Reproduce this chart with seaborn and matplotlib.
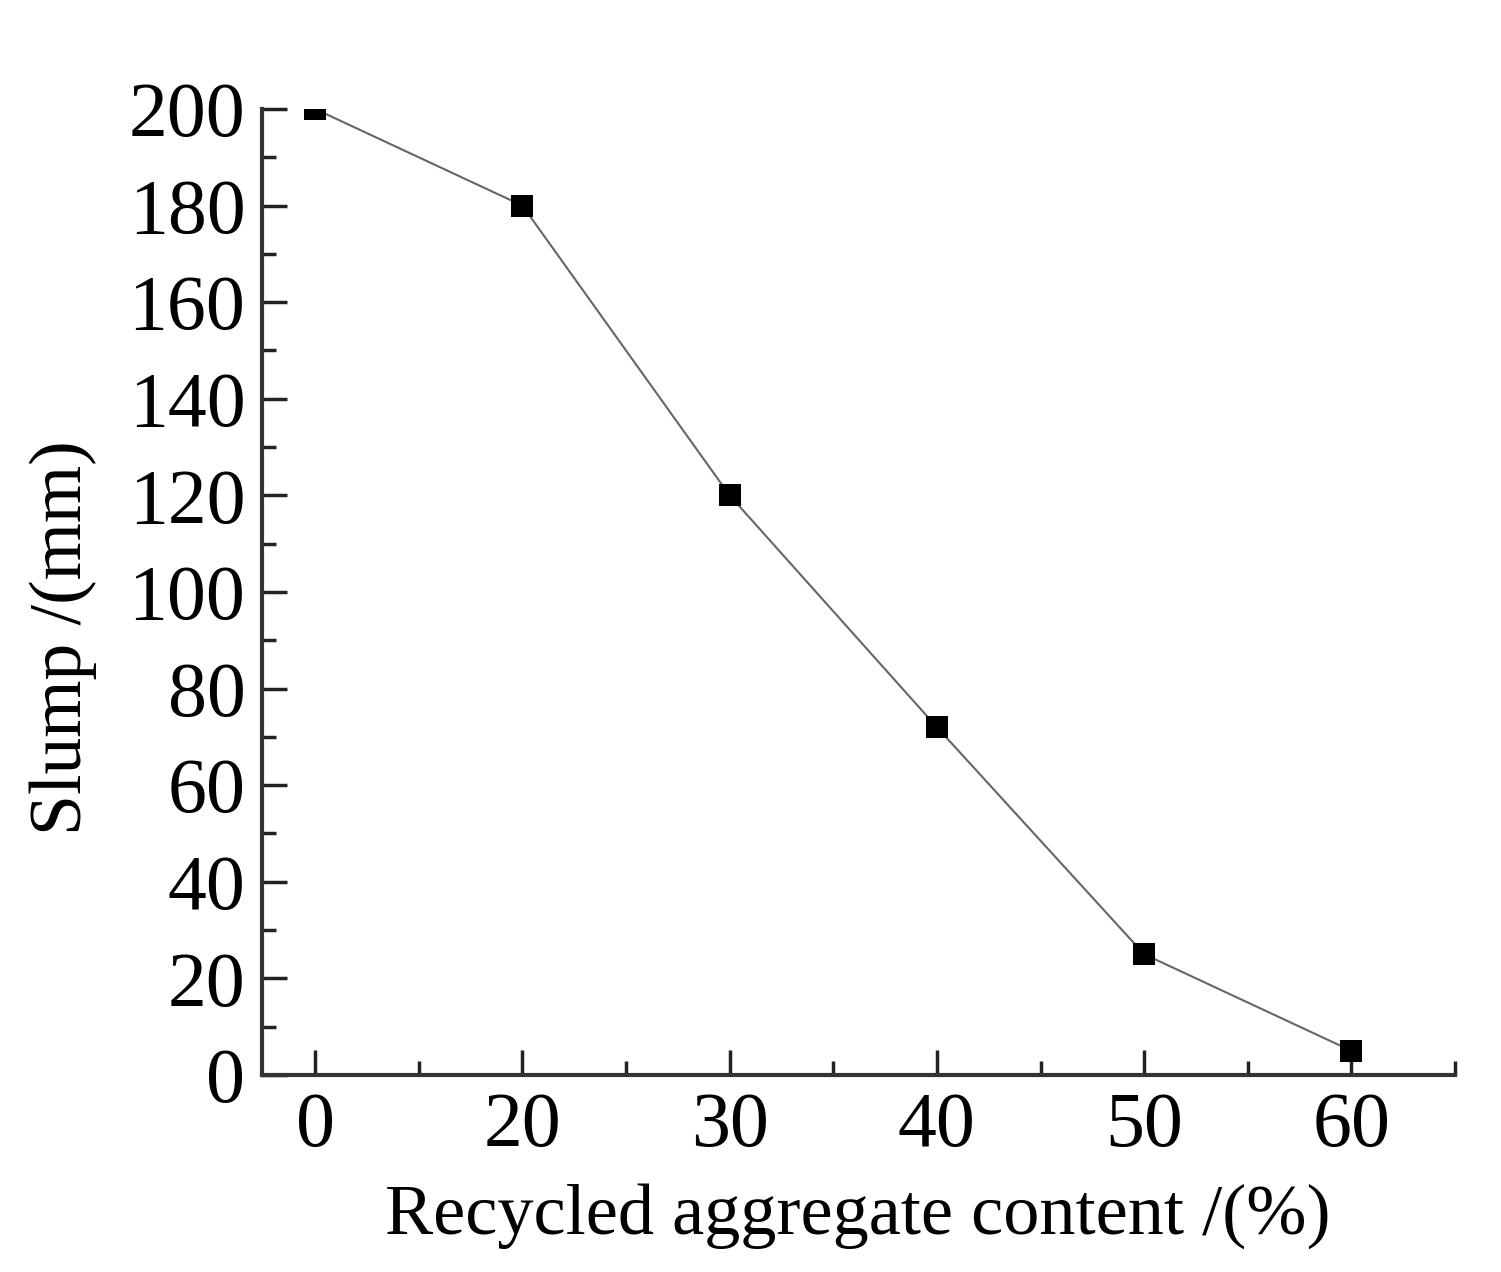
import matplotlib
matplotlib.use("Agg")
import matplotlib.pyplot as plt
import numpy as np
import pandas as pd
import seaborn as sns
from matplotlib.ticker import MultipleLocator, AutoMinorLocator

# recycled aggregate content (%) and measured slump (mm)
content_labels = ["0", "20", "30", "40", "50", "60"]
slump_mm = [200, 180, 120, 72, 25, 5]

df = pd.DataFrame({
    "pos": np.arange(len(content_labels)),
    "slump": slump_mm,
})

sns.set_theme(style="ticks")
plt.rcParams["font.family"] = ["Liberation Serif", "DejaVu Serif"]
plt.rcParams["text.color"] = "black"
plt.rcParams["xtick.labelcolor"] = "black"
plt.rcParams["ytick.labelcolor"] = "black"

fig = plt.figure(figsize=(15.01, 12.72), dpi=100)
ax = fig.add_axes([0.1746, 0.1549, 0.7948, 0.7594])

sns.lineplot(data=df, x="pos", y="slump", ax=ax, color="#666666", linewidth=1.5)
sns.scatterplot(data=df, x="pos", y="slump", ax=ax, marker="s", s=235,
                color="black", edgecolor="black", linewidth=0, zorder=3)

ax.set_xlim(-0.256, 5.5)
ax.set_ylim(0, 200)

ax.xaxis.set_major_locator(MultipleLocator(1))
ax.xaxis.set_minor_locator(AutoMinorLocator(2))
ax.yaxis.set_major_locator(MultipleLocator(20))
ax.yaxis.set_minor_locator(AutoMinorLocator(2))
ax.set_xticks(df["pos"])
ax.set_xticklabels(content_labels)

ax.tick_params(which="major", direction="in", length=18, width=2.5,
               labelsize=56, color="#222222", pad=12)
ax.tick_params(which="minor", direction="in", length=10, width=2.5,
               color="#222222")

for side in ["top", "right"]:
    ax.spines[side].set_visible(False)
for side in ["left", "bottom"]:
    ax.spines[side].set_linewidth(3)
    ax.spines[side].set_color("#333333")

ax.set_xlabel("Recycled aggregate content /(%)", fontsize=52, color="black")
ax.set_ylabel("Slump /(mm)", fontsize=53, color="black")
ax.xaxis.set_label_coords(0.499, -0.112)
ax.yaxis.set_label_coords(-0.138, 0.453)

fig.savefig("out.png", dpi=100, facecolor="white")
